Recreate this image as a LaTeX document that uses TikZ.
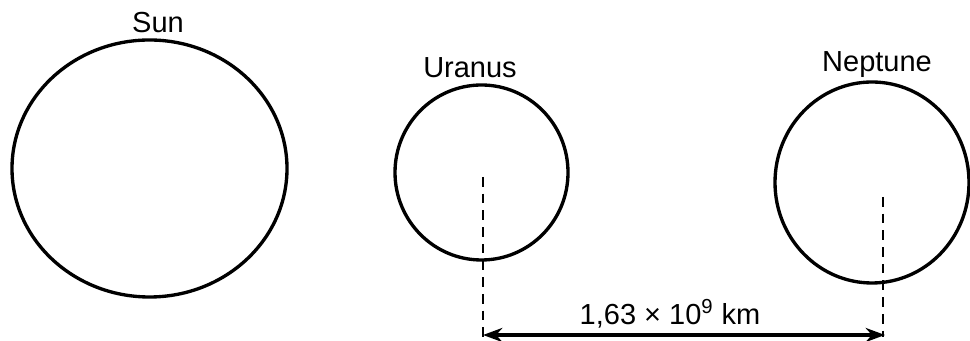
\documentclass[tikz,border=0pt]{standalone}
\usepackage{fontspec}
\setmainfont{Liberation Sans}
\usetikzlibrary{arrows.meta,shapes.geometric}

\tikzset{
  planet/.style={draw, ellipse, line width=1.9pt, inner sep=0pt},
  planetlabel/.style={anchor=base, font=\fontsize{16.5}{19}\selectfont},
  guide/.style={line width=0.8pt, dash pattern=on 5.5pt off 4pt},
  distarrow/.style={{Stealth[length=11pt,width=8pt]}-{Stealth[length=11pt,width=8pt]}, line width=2pt}
}

\begin{document}
\begin{tikzpicture}
        \useasboundingbox (0,0) rectangle (19.4,6.82);

        % --- Planets (drawn as ellipses) ---
        \node[planet, minimum width=5.5cm,  minimum height=5.14cm] (sun)     at (2.99,3.45)  {};
        \node[planet, minimum width=3.46cm, minimum height=3.5cm]  (uranus)  at (9.63,3.37)  {};
        \node[planet, minimum width=3.88cm, minimum height=4.02cm] (neptune) at (17.44,3.17) {};

        % --- Names above the bodies ---
        \node[planetlabel] (sunname)     at (3.16,6.16)  {Sun};
        \node[planetlabel] (uranusname)  at (9.4,5.26)   {Uranus};
        \node[planetlabel] (neptunename) at (17.54,5.38) {Neptune};

        % --- Guide lines down from the centres ---
        \coordinate (utop) at (9.66,3.28);
        \coordinate (ubot) at (9.66,0.08);
        \coordinate (ntop) at (17.66,2.88);
        \coordinate (nbot) at (17.66,0.08);
        \draw[guide] (utop) -- (ubot);
        \draw[guide] (ntop) -- (nbot);

        % --- Distance between the two planets ---
        \coordinate (aleft)  at (9.66,0.12);
        \coordinate (aright) at (17.7,0.12);
        \draw[distarrow] (aleft) -- (aright);
        \node[planetlabel] (dist) at (13.4,0.32) {1,63 × 10\textsuperscript{9} km};
\end{tikzpicture}
\end{document}
